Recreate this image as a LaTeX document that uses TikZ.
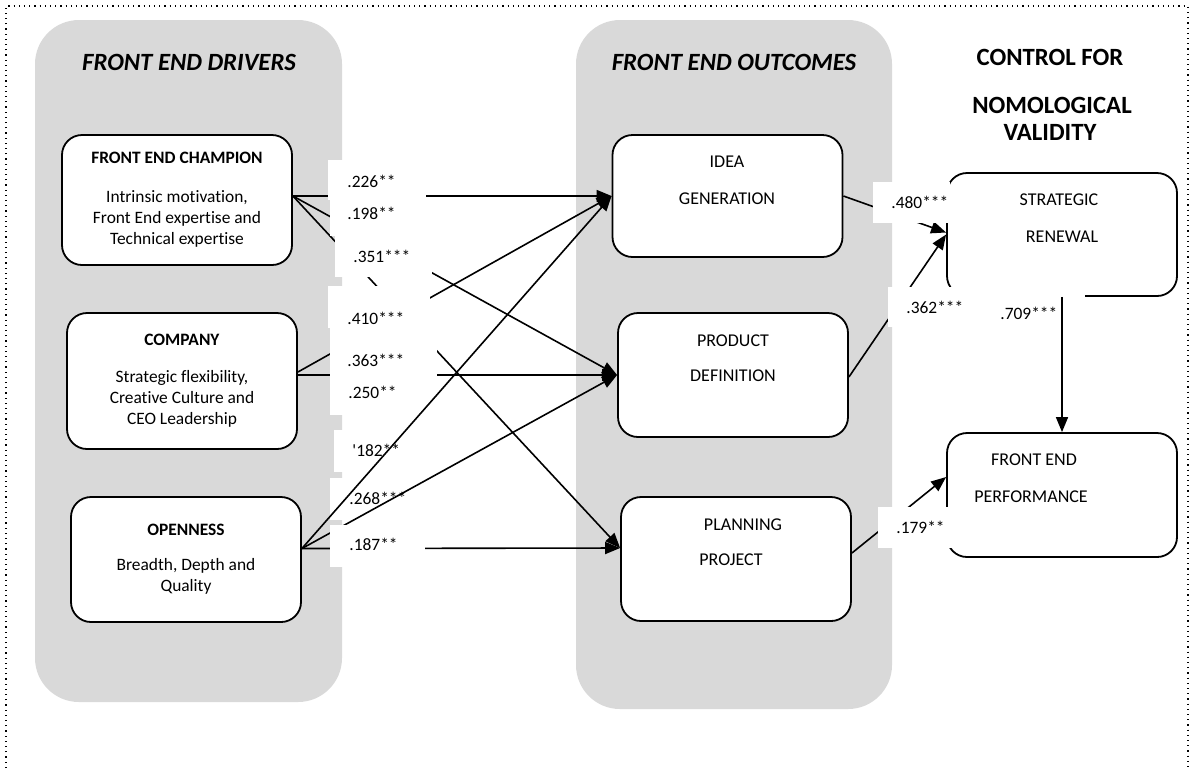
\documentclass[tikz,border=0pt]{standalone}
\usepackage{fontspec}
\setmainfont{Carlito}[Ligatures={NoCommon}]
\usepackage{xcolor}
\usetikzlibrary{arrows.meta}
\usetikzlibrary{positioning}
\definecolor{panelgray}{HTML}{D9D9D9}

\begin{document}
\begin{tikzpicture}[x=0.5pt,y=-0.5pt]
% 1 = one pixel of the reference
    \tikzset{
      panel/.style={fill=panelgray, rounded corners=22pt},
      box/.style={draw, line width=0.9pt, fill=white, rounded corners=10pt,
        minimum width=115pt, inner sep=0pt, align=center,
        font=\fontsize{8.7}{10.5}\selectfont},
      boxtext/.style={font=\fontsize{9}{10}\selectfont, inner sep=0pt},
      head/.style={font=\fontsize{12.4}{14}\selectfont\bfseries\itshape},
      ctrl/.style={font=\fontsize{12.4}{14}\selectfont\bfseries},
      coef/.style={font=\fontsize{8.7}{10}\selectfont, anchor=west, inner sep=0pt},
      cover/.style={fill=white},
      link/.style={line width=0.8pt, -{Triangle[length=7.5pt,width=6pt]}},
    }
    \useasboundingbox (0,0) rectangle (1192,768);

    % dotted frame
    \draw[dotted, line width=0.6pt] (6,768) -- (6,6) -- (1188,6) -- (1188,768);

    % PANELS
    \fill[panel] (35,20) rectangle (342,702);
    \fill[panel] (576,20) rectangle (892,709);

    \node[head] (drv) at (189,62) {FRONT END DRIVERS};
    \node[head] (out) at (734,62) {FRONT END OUTCOMES};
    \node[ctrl] (ctl1) at (1050,57) {CONTROL FOR};
    \node[ctrl] (ctl2) at (1052,105) {NOMOLOGICAL};
    \node[ctrl] (ctl3) at (1050,132) {VALIDITY};

    % DRIVERS
    \node[box, minimum height=65pt] (champ) at (177,200)
        {\textbf{FRONT END CHAMPION}\\[9pt]Intrinsic motivation,\\
         Front End expertise and\\Technical expertise};
    \node[box, minimum height=68pt] (comp) at (182,381)
        {\textbf{COMPANY}\\[8pt]Strategic flexibility,\\
         Creative Culture and\\CEO Leadership};
    \node[box, minimum height=62.5pt] (open) at (186,559.5)
        {\textbf{OPENNESS}\\[7pt]Breadth, Depth and\\Quality};

    % OUTCOMES
    \node[box, minimum height=61pt] (idea) at (727.5,196) {};
    \node[boxtext] (idea1) at (727,162) {IDEA};
    \node[boxtext] (idea2) at (727,199) {GENERATION};

    \node[box, minimum height=62pt] (prod) at (733,375) {};
    \node[boxtext] (prod1) at (733,341) {PRODUCT};
    \node[boxtext] (prod2) at (733,376) {DEFINITION};

    \node[box, minimum height=62pt] (plan) at (736,559) {};
    \node[boxtext] (plan1) at (743,525) {PLANNING};
    \node[boxtext] (plan2) at (731,560) {PROJECT};

    % CONTROL
    \node[box, minimum height=61.5pt] (strat) at (1062,234.5) {};
    \node[boxtext] (strat1) at (1059,200) {STRATEGIC};
    \node[boxtext] (strat2) at (1062,237) {RENEWAL};

    \node[box, minimum height=62pt] (perf) at (1062,495) {};
    \node[boxtext] (perf1) at (1034,460) {FRONT END};
    \node[boxtext] (perf2) at (1031,497) {PERFORMANCE};

    % drivers -> outcomes
    \draw[link] ([yshift=2pt]champ.east) -- (idea.west);
    \draw[link] ([yshift=2pt]champ.east) -- (prod.west);
    \draw[link] ([yshift=2pt]champ.east) -- ([yshift=5.5pt]plan.west);
    \draw[link] ([yshift=4.5pt]comp.east) -- (idea.west);
    \draw[link] ([yshift=3pt]comp.east) -- (prod.west);
    \draw[link] ([yshift=5.5pt]open.east) -- ([yshift=5.5pt]plan.west);

    % outcomes -> control
    \draw[link] (idea.east) -- ([yshift=1pt]strat.west);
    \draw[link] ([yshift=-1pt]prod.east) -- (strat.west);
    \draw[link] ([yshift=3pt]plan.east) -- ([yshift=9pt]perf.west);

    % coefficients
    \fill[cover] (328,160) rectangle (426,200);
    \node[coef] (c226) at (347,181) {.226**};
    \fill[cover] (330,200) rectangle (431,236);
    \node[coef] (c198) at (347,213) {.198**};
    \fill[cover] (335,236) rectangle (432,277);
    \node[coef] (c351) at (353,256) {.351***};
    \fill[cover] (328,286) rectangle (430,328);
    \node[coef] (c410) at (347,318) {.410***};
    \fill[cover] (330,328) rectangle (437,378);
    \node[coef] (c363) at (347,360) {.363***};
    \fill[cover] (330,378) rectangle (437,415);
    \node[coef] (c250) at (348,392) {.250**};
    \fill[cover] (334,430) rectangle (430,472);
    \node[coef] (c182) at (352,450) {\textquotesingle182**};
    \fill[cover] (330,478) rectangle (430,520);
    \node[coef] (c268) at (349,498) {.268***};

    \draw[link] ([yshift=5.5pt]open.east) -- (prod.west);
    \draw[link] ([yshift=5.5pt]open.east) -- (idea.west);

    \fill[cover] (330,525) rectangle (425,567);
    \node[coef] (c187) at (349,544) {.187**};

    \fill[cover] (873,182) rectangle (950,223);
    \node[coef] (c480) at (891,202) {.480***};
    \fill[cover] (888,287) rectangle (1000,327);
    \node[coef] (c362) at (906,307) {.362***};
    \fill[cover] (1000,291) rectangle (1085,330);
    \node[coef] (c709) at (1000,313) {.709***};
    \fill[cover] (878,507) rectangle (952,548);
    \node[coef] (c179) at (896,527) {.179**};

    \draw[link] (strat.south) -- (perf.north);

\end{tikzpicture}
\end{document}
